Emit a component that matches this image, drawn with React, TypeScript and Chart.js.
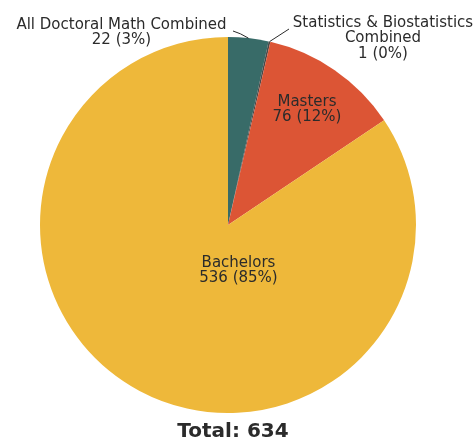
import React, { useEffect, useRef } from "react";
import { Chart, registerables } from "chart.js";

Chart.register(...registerables);

const categories = [
  "All Doctoral Math Combined",
  "Statistics & Biostatistics Combined",
  "Masters",
  "Bachelors",
];
const values = [22, 1, 76, 536];
const percentLabels = ["3%", "0%", "12%", "85%"];
const colors = ["#386b68", "#4a4a4a", "#dc5535", "#eeb83a"];
const totalLabel = "Total: 634";

const FONT = '"DejaVu Sans", sans-serif';

// label layout (relative to pie centre)
const labelLayout = [
  { lines: ["All Doctoral Math Combined"], dx: -106.5, dy: -200, leader: { fx: 5, fy: -194, cx: 12, cy: -192 } },
  { lines: ["Statistics & Biostatistics", "Combined"], dx: 155, dy: -202, leader: { fx: 61, fy: -196 } },
  { lines: ["Masters"], dx: 79, dy: -123 },
  { lines: ["Bachelors"], dx: 10.5, dy: 38 },
];

const labelPlugin = {
  id: "sliceLabels",
  afterDraw(chart: any) {
    const ctx = chart.ctx;
    const meta = chart.getDatasetMeta(0);
    ctx.save();
    ctx.fillStyle = "#2b2b2b";
    ctx.strokeStyle = "#2b2b2b";
    ctx.font = `15px ${FONT}`;
    ctx.textAlign = "center";
    ctx.textBaseline = "middle";
    meta.data.forEach((arc: any, i: number) => {
      const p = arc.getProps(["x", "y", "startAngle", "endAngle", "outerRadius"], true);
      const L = labelLayout[i];
      const lines = [...L.lines, `${values[i]} (${percentLabels[i]})`];
      const bx = p.x + L.dx;
      const by = p.y + L.dy;
      lines.forEach((t, k) => ctx.fillText(t, bx, by + k * 15.5));
      if (L.leader) {
        const mid = (p.startAngle + p.endAngle) / 2;
        const ex = p.x + Math.cos(mid) * p.outerRadius;
        const ey = p.y + Math.sin(mid) * p.outerRadius;
        ctx.lineWidth = 1;
        ctx.beginPath();
        ctx.moveTo(p.x + L.leader.fx, p.y + L.leader.fy);
        if (L.leader.cx !== undefined) {
          ctx.quadraticCurveTo(p.x + L.leader.cx, p.y + L.leader.cy, ex, ey);
        } else {
          ctx.lineTo(ex, ey);
        }
        ctx.stroke();
      }
    });
    // total
    const cx = (chart.chartArea.left + chart.chartArea.right) / 2;
    ctx.font = `bold 20px ${FONT}`;
    ctx.fillStyle = "#2b2b2b";
    ctx.fillText(totalLabel, cx + 5, chart.chartArea.bottom + 19);
    ctx.restore();
  },
};

export default function App() {
  const ref = useRef<HTMLCanvasElement>(null);
  useEffect(() => {
    document.body.style.margin = "0";
    const chart = new Chart(ref.current!, {
      type: "pie",
      data: {
        labels: categories,
        datasets: [
          {
            data: values,
            backgroundColor: colors,
            borderWidth: 0,
          },
        ],
      },
      options: {
        responsive: false,
        animation: false,
        layout: { padding: { left: 40, right: 59, top: 37, bottom: 29 } },
        plugins: {
          legend: { display: false },
          tooltip: { enabled: false },
          title: { display: false },
        },
      },
      plugins: [labelPlugin],
    });
    return () => chart.destroy();
  }, []);
  return (
    <div style={{ width: 475, height: 442, background: "#fff" }}>
      <canvas ref={ref} width={475} height={442} style={{ display: "block" }} />
    </div>
  );
}
